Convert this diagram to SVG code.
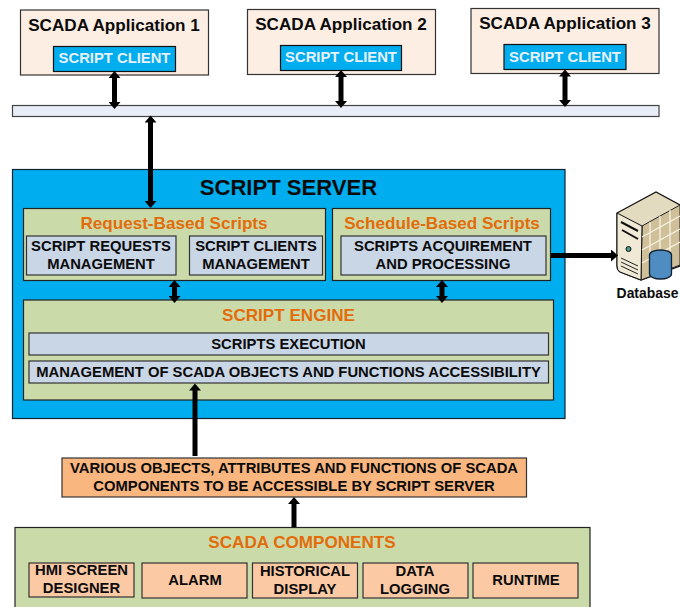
<svg xmlns="http://www.w3.org/2000/svg" width="680" height="607" viewBox="0 0 680 607">
<style>
text{font-family:"Liberation Sans",Arial,sans-serif;font-weight:bold;text-anchor:middle;fill:#0b0b0b}
.app{fill:#fdeee3;stroke:#333;stroke-width:1.2}
.cl{fill:#00aeef;stroke:#111;stroke-width:1.2}
.cw{fill:#e8f0fa;font-size:14.8px}
.t16{font-size:17.1px}
.gr{fill:#cbdaa9;stroke:#222;stroke-width:1.2}
.bl{fill:#c9d6e6;stroke:#333;stroke-width:1.2}
.or{fill:#fbc9a4;stroke:#333;stroke-width:1.2}
.ot{fill:#e36c0a;font-size:17.1px}
.t14{font-size:14.8px}
.ln{stroke:#000;stroke-width:5;fill:none}
</style>
<defs>
<marker id="ah" markerUnits="userSpaceOnUse" markerWidth="8" markerHeight="12" refX="1" refY="6" orient="auto-start-reverse"><path d="M0 0L7 6L0 12Z" fill="#000"/></marker>
</defs>
<g id="app1"><rect class="app" x="20.500" y="10" width="188" height="65"/><text class="t16" x="114" y="31">SCADA Application 1</text><rect class="cl" x="53.500" y="46.500" width="122" height="25"/><text class="cw" x="114.500" y="63">SCRIPT CLIENT</text></g>
<g id="app2"><rect class="app" x="247.500" y="9.500" width="188" height="65"/><text class="t16" x="341" y="30">SCADA Application 2</text><rect class="cl" x="280.500" y="45.500" width="121" height="25"/><text class="cw" x="341" y="62">SCRIPT CLIENT</text></g>
<g id="app3"><rect class="app" x="471" y="8.500" width="188" height="65"/><text class="t16" x="565" y="29">SCADA Application 3</text><rect class="cl" x="504" y="44.500" width="122" height="25"/><text class="cw" x="565" y="62">SCRIPT CLIENT</text></g>
<g id="bus"><rect x="12.500" y="105.500" width="646.500" height="11" fill="#e8edf7" stroke="#444" stroke-width="1.2"/></g>
<g id="server"><rect x="12.500" y="169.500" width="552.500" height="249" fill="#00aeef" stroke="#123" stroke-width="1.2"/><text x="288.500" y="195" font-size="22.100">SCRIPT SERVER</text></g>
<g id="request"><rect class="gr" x="23.500" y="208.500" width="302" height="72"/><text class="ot" x="174" y="229">Request-Based Scripts</text><rect class="bl" x="26.500" y="236" width="149.500" height="39"/><text class="t14" x="101" y="251">SCRIPT REQUESTS</text><text class="t14" x="101" y="269">MANAGEMENT</text><rect class="bl" x="189.500" y="236" width="133" height="39"/><text class="t14" x="256" y="251">SCRIPT CLIENTS</text><text class="t14" x="256" y="269">MANAGEMENT</text></g>
<g id="schedule"><rect class="gr" x="332.500" y="208.500" width="218" height="72"/><text class="ot" x="442" y="229">Schedule-Based Scripts</text><rect class="bl" x="341" y="236" width="205" height="39"/><text class="t14" x="443" y="251">SCRIPTS ACQUIREMENT</text><text class="t14" x="443" y="269">AND PROCESSING</text></g>
<g id="engine"><rect class="gr" x="23.500" y="300" width="530" height="100"/><text class="ot" x="288.500" y="321">SCRIPT ENGINE</text><rect class="bl" x="29" y="333" width="519.500" height="22"/><text class="t14" x="288.500" y="349">SCRIPTS EXECUTION</text><rect class="bl" x="29" y="361" width="519.500" height="22"/><text class="t14" x="288.500" y="377">MANAGEMENT OF SCADA OBJECTS AND FUNCTIONS ACCESSIBILITY</text></g>
<g id="database"><path d="M617 213L656 192L680 205V266L641 280L620 272Q617 270 617 266Z" fill="#e3dbc0" stroke="#111" stroke-width="1.2"/><path d="M642 226L680 205V265L641 280Z" fill="#cfc09a" stroke="#222" stroke-width="1"/><path d="M617 213L642 226L641 280L620 272Q617 270 617 266Z" fill="#efe9d6" stroke="#111" stroke-width="1"/><path d="M642 237L680 216M642 250L680 229M642 263L680 242M650 222V275M660 216V272M670 210V268" stroke="#f6f1e2" stroke-width="1.300" fill="none"/><path d="M621 222L638 231M622 230L638 239" stroke="#111" stroke-width="2"/><path d="M621 258L638 266M621 262L638 270M621 266L638 274" stroke="#222" stroke-width="1"/><circle cx="628.500" cy="249" r="2.500" fill="#4a9a8c" stroke="#111"/><path d="M649.500 255a11 5 0 0 1 22 0V274a11 5 0 0 1-22 0Z" fill="#4f8cc2" stroke="#123" stroke-width="1.300"/><text x="647.500" y="298" font-size="13.900">Database</text></g>
<g id="objects"><rect class="or" style="fill:#fab67f" x="62" y="458" width="464.500" height="39"/><text class="t14" x="294" y="473">VARIOUS OBJECTS, ATTRIBUTES AND FUNCTIONS OF SCADA</text><text class="t14" x="294" y="491">COMPONENTS TO BE ACCESSIBLE BY SCRIPT SERVER</text></g>
<g id="components"><rect class="gr" x="15" y="527.500" width="575" height="85"/><text class="ot" x="302" y="548">SCADA COMPONENTS</text><rect class="or" x="29" y="563" width="105" height="34"/><text class="t14" x="81.500" y="575">HMI SCREEN</text><text class="t14" x="81.500" y="593">DESIGNER</text><rect class="or" x="142" y="563" width="105" height="35"/><text class="t14" x="195" y="585">ALARM</text><rect class="or" x="252.500" y="563" width="105" height="35"/><text class="t14" x="305" y="576">HISTORICAL</text><text class="t14" x="305" y="594">DISPLAY</text><rect class="or" x="363" y="563" width="105" height="35"/><text class="t14" x="415" y="576">DATA</text><text class="t14" x="415" y="594">LOGGING</text><rect class="or" x="473" y="563" width="105" height="35"/><text class="t14" x="526" y="585">RUNTIME</text></g>
<g id="connectors">
<path class="ln" d="M114.500 77V103" marker-start="url(#ah)" marker-end="url(#ah)"/>
<path class="ln" d="M341 76V102" marker-start="url(#ah)" marker-end="url(#ah)"/>
<path class="ln" d="M565 75.500V101" marker-start="url(#ah)" marker-end="url(#ah)"/>
<path class="ln" d="M150.500 121.500V202" marker-start="url(#ah)" marker-end="url(#ah)"/>
<path class="ln" d="M174.500 286V297" marker-start="url(#ah)" marker-end="url(#ah)"/>
<path class="ln" d="M442 286V297" marker-start="url(#ah)" marker-end="url(#ah)"/>
<path class="ln" d="M551 255.500H612" marker-end="url(#ah)"/>
<path class="ln" d="M195 456V389.500" marker-end="url(#ah)"/>
<path class="ln" d="M294 527V503" marker-end="url(#ah)"/>
</g>
</svg>
